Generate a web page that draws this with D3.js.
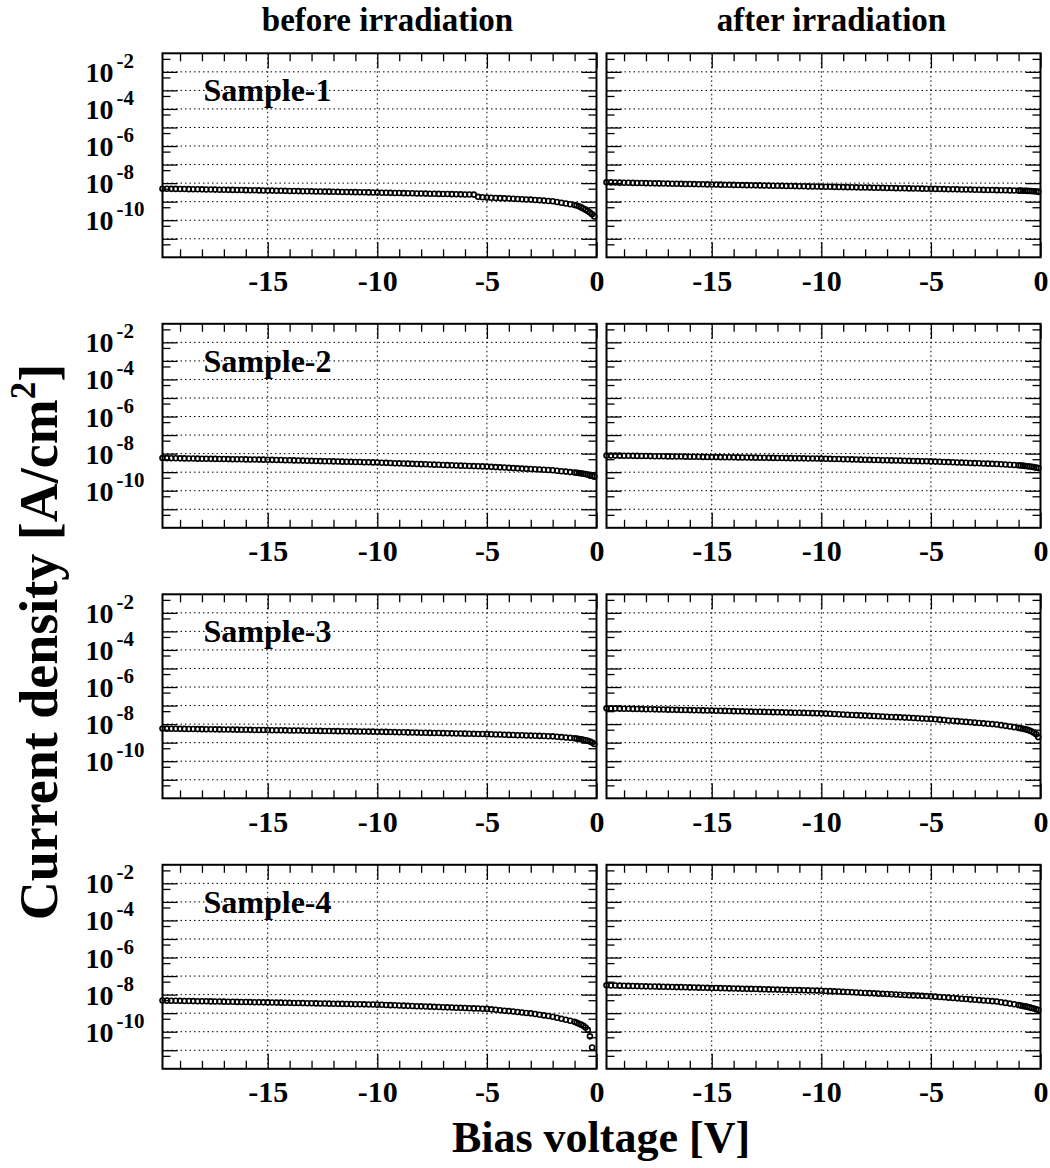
<!DOCTYPE html>
<html>
<head>
<meta charset="utf-8">
<script src="https://cdn.jsdelivr.net/npm/d3@7"></script>
<style>
  body { margin: 0; background: #fff; }
</style>
</head>
<body>
<svg id="chart" width="1050" height="1168"></svg>
<script>
// bias voltage [V] of every measured point (shared by all eight curves)
var voltages = [
  -19.8,-19.6,-19.4,-19.2,-19.0,-18.8,-18.6,-18.4,-18.2,-18.0,
  -17.8,-17.6,-17.4,-17.2,-17.0,-16.8,-16.6,-16.4,-16.2,-16.0,
  -15.8,-15.6,-15.4,-15.2,-15.0,-14.8,-14.6,-14.4,-14.2,-14.0,
  -13.8,-13.6,-13.4,-13.2,-13.0,-12.8,-12.6,-12.4,-12.2,-12.0,
  -11.8,-11.6,-11.4,-11.2,-11.0,-10.8,-10.6,-10.4,-10.2,-10.0,
  -9.8,-9.6,-9.4,-9.2,-9.0,-8.8,-8.6,-8.4,-8.2,-8.0,
  -7.8,-7.6,-7.4,-7.2,-7.0,-6.8,-6.6,-6.4,-6.2,-6.0,
  -5.8,-5.6,-5.4,-5.2,-5.0,-4.8,-4.6,-4.4,-4.2,-4.0,
  -3.8,-3.6,-3.4,-3.2,-3.0,-2.8,-2.6,-2.4,-2.2,-2.0,
  -1.8,-1.6,-1.4,-1.2,-1.0,
  -0.9,-0.8,-0.7,-0.6,-0.5,-0.4,-0.3,-0.2,-0.1
];

// current density [A/cm^2]
var s1Before = [
  5.01e-9,4.96e-9,4.91e-9,4.87e-9,4.83e-9,4.78e-9,4.74e-9,4.69e-9,4.65e-9,4.60e-9,
  4.56e-9,4.51e-9,4.47e-9,4.42e-9,4.38e-9,4.34e-9,4.30e-9,4.26e-9,4.22e-9,4.18e-9,
  4.14e-9,4.10e-9,4.06e-9,4.02e-9,3.98e-9,3.94e-9,3.90e-9,3.86e-9,3.82e-9,3.78e-9,
  3.74e-9,3.71e-9,3.67e-9,3.64e-9,3.60e-9,3.56e-9,3.53e-9,3.49e-9,3.46e-9,3.42e-9,
  3.39e-9,3.35e-9,3.32e-9,3.28e-9,3.25e-9,3.22e-9,3.19e-9,3.15e-9,3.12e-9,3.09e-9,
  3.05e-9,3.02e-9,2.99e-9,2.95e-9,2.92e-9,2.88e-9,2.85e-9,2.82e-9,2.78e-9,2.75e-9,
  2.72e-9,2.69e-9,2.66e-9,2.63e-9,2.60e-9,2.57e-9,2.54e-9,2.51e-9,2.48e-9,2.45e-9,
  2.43e-9,2.40e-9,1.82e-9,1.74e-9,1.66e-9,1.62e-9,1.58e-9,1.55e-9,1.51e-9,1.48e-9,
  1.44e-9,1.40e-9,1.36e-9,1.32e-9,1.29e-9,1.24e-9,1.19e-9,1.14e-9,1.09e-9,1.05e-9,
  0.955e-9,0.871e-9,0.794e-9,0.724e-9,0.661e-9,
  0.617e-9,0.562e-9,0.490e-9,0.427e-9,0.372e-9,0.316e-9,0.257e-9,0.209e-9,0.158e-9
];
var s1After = [
  1.10e-8,1.09e-8,1.08e-8,1.06e-8,1.05e-8,1.04e-8,1.03e-8,1.02e-8,1.01e-8,0.995e-8,
  9.84e-9,9.73e-9,9.63e-9,9.52e-9,9.42e-9,9.32e-9,9.22e-9,9.12e-9,9.02e-9,8.93e-9,
  8.83e-9,8.74e-9,8.64e-9,8.55e-9,8.46e-9,8.37e-9,8.28e-9,8.19e-9,8.10e-9,8.01e-9,
  7.93e-9,7.84e-9,7.76e-9,7.67e-9,7.59e-9,7.51e-9,7.43e-9,7.35e-9,7.27e-9,7.19e-9,
  7.11e-9,7.04e-9,6.96e-9,6.89e-9,6.81e-9,6.74e-9,6.67e-9,6.60e-9,6.52e-9,6.45e-9,
  6.38e-9,6.32e-9,6.25e-9,6.18e-9,6.11e-9,6.05e-9,5.98e-9,5.92e-9,5.85e-9,5.79e-9,
  5.73e-9,5.67e-9,5.60e-9,5.54e-9,5.48e-9,5.42e-9,5.36e-9,5.31e-9,5.25e-9,5.19e-9,
  5.14e-9,5.08e-9,5.03e-9,4.97e-9,4.92e-9,4.87e-9,4.81e-9,4.76e-9,4.71e-9,4.66e-9,
  4.61e-9,4.56e-9,4.51e-9,4.46e-9,4.42e-9,4.37e-9,4.32e-9,4.27e-9,4.23e-9,4.18e-9,
  4.14e-9,4.09e-9,4.05e-9,4.00e-9,3.96e-9,
  3.94e-9,3.89e-9,3.85e-9,3.80e-9,3.76e-9,3.72e-9,3.63e-9,3.51e-9,3.39e-9
];
var s2Before = [
  5.75e-9,5.70e-9,5.65e-9,5.60e-9,5.56e-9,5.51e-9,5.46e-9,5.41e-9,5.37e-9,5.32e-9,
  5.28e-9,5.23e-9,5.19e-9,5.14e-9,5.10e-9,5.06e-9,5.01e-9,4.97e-9,4.93e-9,4.89e-9,
  4.85e-9,4.81e-9,4.76e-9,4.72e-9,4.68e-9,4.62e-9,4.56e-9,4.49e-9,4.43e-9,4.37e-9,
  4.31e-9,4.25e-9,4.19e-9,4.13e-9,4.07e-9,4.02e-9,3.96e-9,3.91e-9,3.85e-9,3.80e-9,
  3.75e-9,3.70e-9,3.65e-9,3.60e-9,3.55e-9,3.50e-9,3.45e-9,3.40e-9,3.36e-9,3.31e-9,
  3.24e-9,3.18e-9,3.11e-9,3.05e-9,2.99e-9,2.93e-9,2.87e-9,2.81e-9,2.76e-9,2.70e-9,
  2.65e-9,2.59e-9,2.54e-9,2.49e-9,2.44e-9,2.39e-9,2.34e-9,2.30e-9,2.25e-9,2.21e-9,
  2.16e-9,2.12e-9,2.08e-9,2.04e-9,2.00e-9,1.94e-9,1.88e-9,1.82e-9,1.77e-9,1.71e-9,
  1.66e-9,1.61e-9,1.56e-9,1.51e-9,1.47e-9,1.43e-9,1.38e-9,1.34e-9,1.30e-9,1.26e-9,
  1.19e-9,1.13e-9,1.07e-9,1.01e-9,0.955e-9,
  0.923e-9,0.891e-9,0.861e-9,0.822e-9,0.785e-9,0.741e-9,0.692e-9,0.631e-9,0.562e-9
];
var s2After = [
  7.94e-9,7.88e-9,7.82e-9,7.75e-9,7.69e-9,7.63e-9,7.57e-9,7.51e-9,7.45e-9,7.39e-9,
  7.33e-9,7.27e-9,7.22e-9,7.16e-9,7.10e-9,7.05e-9,6.99e-9,6.94e-9,6.88e-9,6.83e-9,
  6.78e-9,6.72e-9,6.67e-9,6.61e-9,6.56e-9,6.51e-9,6.46e-9,6.40e-9,6.35e-9,6.30e-9,
  6.25e-9,6.20e-9,6.15e-9,6.10e-9,6.05e-9,6.00e-9,5.96e-9,5.91e-9,5.87e-9,5.82e-9,
  5.77e-9,5.73e-9,5.68e-9,5.64e-9,5.59e-9,5.55e-9,5.50e-9,5.46e-9,5.41e-9,5.37e-9,
  5.30e-9,5.22e-9,5.15e-9,5.08e-9,5.01e-9,4.94e-9,4.87e-9,4.81e-9,4.74e-9,4.68e-9,
  4.62e-9,4.55e-9,4.49e-9,4.43e-9,4.37e-9,4.31e-9,4.25e-9,4.19e-9,4.13e-9,4.07e-9,
  4.02e-9,3.96e-9,3.91e-9,3.85e-9,3.80e-9,3.72e-9,3.64e-9,3.56e-9,3.49e-9,3.41e-9,
  3.34e-9,3.27e-9,3.20e-9,3.13e-9,3.07e-9,3.00e-9,2.94e-9,2.87e-9,2.81e-9,2.75e-9,
  2.67e-9,2.58e-9,2.50e-9,2.42e-9,2.34e-9,
  2.29e-9,2.24e-9,2.16e-9,2.09e-9,2.02e-9,1.95e-9,1.86e-9,1.76e-9,1.66e-9
];
var s3Before = [
  5.75e-9,5.70e-9,5.66e-9,5.61e-9,5.57e-9,5.52e-9,5.48e-9,5.44e-9,5.40e-9,5.36e-9,
  5.31e-9,5.27e-9,5.23e-9,5.18e-9,5.14e-9,5.10e-9,5.06e-9,5.02e-9,4.98e-9,4.94e-9,
  4.90e-9,4.86e-9,4.82e-9,4.79e-9,4.75e-9,4.71e-9,4.67e-9,4.64e-9,4.60e-9,4.56e-9,
  4.53e-9,4.49e-9,4.46e-9,4.42e-9,4.39e-9,4.35e-9,4.32e-9,4.28e-9,4.25e-9,4.21e-9,
  4.18e-9,4.15e-9,4.11e-9,4.08e-9,4.05e-9,4.02e-9,3.98e-9,3.95e-9,3.92e-9,3.89e-9,
  3.84e-9,3.80e-9,3.75e-9,3.71e-9,3.66e-9,3.62e-9,3.58e-9,3.53e-9,3.49e-9,3.45e-9,
  3.41e-9,3.37e-9,3.33e-9,3.29e-9,3.25e-9,3.21e-9,3.17e-9,3.13e-9,3.10e-9,3.06e-9,
  3.02e-9,2.99e-9,2.95e-9,2.92e-9,2.88e-9,2.83e-9,2.78e-9,2.73e-9,2.68e-9,2.63e-9,
  2.58e-9,2.53e-9,2.49e-9,2.44e-9,2.40e-9,2.35e-9,2.31e-9,2.27e-9,2.23e-9,2.19e-9,
  2.09e-9,2.00e-9,1.91e-9,1.82e-9,1.74e-9,
  1.66e-9,1.58e-9,1.51e-9,1.43e-9,1.35e-9,1.26e-9,1.15e-9,1.02e-9,0.851e-9
];
var s3After = [
  7.08e-8,7.00e-8,6.92e-8,6.84e-8,6.76e-8,6.68e-8,6.61e-8,6.53e-8,6.46e-8,6.38e-8,
  6.31e-8,6.24e-8,6.17e-8,6.10e-8,6.03e-8,5.96e-8,5.89e-8,5.82e-8,5.76e-8,5.69e-8,
  5.62e-8,5.56e-8,5.50e-8,5.43e-8,5.37e-8,5.30e-8,5.22e-8,5.15e-8,5.08e-8,5.01e-8,
  4.94e-8,4.87e-8,4.81e-8,4.74e-8,4.68e-8,4.62e-8,4.55e-8,4.49e-8,4.43e-8,4.37e-8,
  4.31e-8,4.25e-8,4.19e-8,4.13e-8,4.07e-8,4.02e-8,3.96e-8,3.91e-8,3.85e-8,3.80e-8,
  3.70e-8,3.60e-8,3.50e-8,3.40e-8,3.31e-8,3.22e-8,3.13e-8,3.05e-8,2.96e-8,2.88e-8,
  2.80e-8,2.73e-8,2.65e-8,2.58e-8,2.51e-8,2.44e-8,2.38e-8,2.31e-8,2.25e-8,2.19e-8,
  2.13e-8,2.07e-8,2.02e-8,1.96e-8,1.91e-8,1.82e-8,1.74e-8,1.66e-8,1.58e-8,1.51e-8,
  1.45e-8,1.38e-8,1.32e-8,1.26e-8,1.20e-8,1.15e-8,1.10e-8,1.05e-8,1.00e-8,0.955e-8,
  0.879e-8,0.809e-8,0.745e-8,0.686e-8,0.631e-8,
  0.596e-8,0.562e-8,0.525e-8,0.490e-8,0.447e-8,0.398e-8,0.347e-8,0.282e-8,0.200e-8
];
var s4Before = [
  4.79e-9,4.74e-9,4.70e-9,4.65e-9,4.61e-9,4.56e-9,4.52e-9,4.48e-9,4.43e-9,4.39e-9,
  4.35e-9,4.31e-9,4.27e-9,4.22e-9,4.18e-9,4.14e-9,4.10e-9,4.06e-9,4.03e-9,3.99e-9,
  3.95e-9,3.91e-9,3.88e-9,3.84e-9,3.80e-9,3.76e-9,3.72e-9,3.68e-9,3.64e-9,3.60e-9,
  3.56e-9,3.52e-9,3.48e-9,3.44e-9,3.40e-9,3.36e-9,3.33e-9,3.29e-9,3.25e-9,3.22e-9,
  3.18e-9,3.15e-9,3.11e-9,3.08e-9,3.05e-9,3.01e-9,2.98e-9,2.95e-9,2.91e-9,2.88e-9,
  2.82e-9,2.76e-9,2.70e-9,2.65e-9,2.59e-9,2.54e-9,2.48e-9,2.43e-9,2.38e-9,2.33e-9,
  2.28e-9,2.24e-9,2.19e-9,2.14e-9,2.10e-9,2.06e-9,2.01e-9,1.97e-9,1.93e-9,1.89e-9,
  1.85e-9,1.81e-9,1.77e-9,1.74e-9,1.70e-9,1.61e-9,1.52e-9,1.44e-9,1.36e-9,1.29e-9,
  1.22e-9,1.15e-9,1.09e-9,1.03e-9,0.977e-9,0.899e-9,0.828e-9,0.762e-9,0.701e-9,0.646e-9,
  0.570e-9,0.504e-9,0.445e-9,0.393e-9,0.347e-9,
  0.302e-9,0.269e-9,0.240e-9,0.209e-9,0.170e-9,0.126e-9,0.0562e-9,0.0141e-9,null
];
var s4After = [
  3.16e-8,3.12e-8,3.08e-8,3.04e-8,3.00e-8,2.96e-8,2.92e-8,2.88e-8,2.84e-8,2.80e-8,
  2.76e-8,2.73e-8,2.69e-8,2.66e-8,2.62e-8,2.59e-8,2.55e-8,2.52e-8,2.48e-8,2.45e-8,
  2.42e-8,2.38e-8,2.35e-8,2.32e-8,2.29e-8,2.26e-8,2.23e-8,2.20e-8,2.17e-8,2.14e-8,
  2.11e-8,2.08e-8,2.05e-8,2.03e-8,2.00e-8,1.97e-8,1.94e-8,1.91e-8,1.89e-8,1.86e-8,
  1.84e-8,1.81e-8,1.79e-8,1.76e-8,1.74e-8,1.72e-8,1.69e-8,1.67e-8,1.65e-8,1.62e-8,
  1.58e-8,1.54e-8,1.50e-8,1.46e-8,1.41e-8,1.38e-8,1.34e-8,1.30e-8,1.27e-8,1.23e-8,
  1.20e-8,1.17e-8,1.13e-8,1.10e-8,1.07e-8,1.04e-8,1.01e-8,0.984e-8,0.958e-8,0.933e-8,
  0.907e-8,0.883e-8,0.859e-8,0.836e-8,0.813e-8,0.779e-8,0.746e-8,0.715e-8,0.685e-8,0.656e-8,
  0.628e-8,0.602e-8,0.576e-8,0.552e-8,0.529e-8,0.507e-8,0.485e-8,0.465e-8,0.445e-8,0.427e-8,
  0.391e-8,0.358e-8,0.328e-8,0.301e-8,0.275e-8,
  0.260e-8,0.245e-8,0.232e-8,0.219e-8,0.204e-8,0.191e-8,0.178e-8,0.164e-8,0.148e-8
];

var sampleNames = ['Sample-1', 'Sample-2', 'Sample-3', 'Sample-4'];
var columnTitles = ['before irradiation', 'after irradiation'];
var xTickValues = [-15, -10, -5, 0];
var xGridValues = [-15, -10, -5];
var xMinorTicks = [-19, -18, -17, -16, -14, -13, -12, -11, -9, -8, -7, -6, -4, -3, -2, -1];
var yDecades = [1e-2, 1e-3, 1e-4, 1e-5, 1e-6, 1e-7, 1e-8, 1e-9, 1e-10, 1e-11];
var yMinorTicks = [5e-2, 5e-3, 5e-4, 5e-5, 5e-6, 5e-7, 5e-8, 5e-9, 5e-10, 5e-11, 5e-12];
var yLabelValues = [1e-2, 1e-4, 1e-6, 1e-8, 1e-10];
var yLabelExponents = ['-2', '-4', '-6', '-8', '-10'];
var xDomain = [-19.8, 0];
var yDomain = [1e-12, 1e-1];

var panelSeries = [
    [s1Before, s1After],
    [s2Before, s2After],
    [s3Before, s3After],
    [s4Before, s4After]
];

var fontFamily = '"Liberation Serif", "Times New Roman", Times, serif';
var plotW = 434, plotH = 204;
var colX = [162.5, 606.5];
var rowY = [53.3, 323.8, 594.3, 864.8];

var svg = d3.select('#chart');
svg.append('rect').attr('width', 1050).attr('height', 1168).attr('fill', '#fff');

var x = d3.scaleLinear().domain(xDomain).range([0, plotW]);
var y = d3.scaleLog().domain(yDomain).range([plotH, 0]);

function styleAxis(sel) {
    sel.select('.domain').remove();
    sel.attr('font-family', fontFamily).attr('font-size', 30).attr('font-weight', 'bold');
    sel.selectAll('.tick line').attr('stroke', '#000').attr('stroke-width', 1.3);
    sel.selectAll('.tick text').attr('fill', '#000');
}

function drawPanel(row, col, values) {
    var g = svg.append('g')
        .attr('transform', 'translate(' + colX[col] + ',' + rowY[row] + ')');

    // dotted grid
    g.append('g').selectAll('line').data(yDecades).join('line')
        .attr('x1', 0).attr('x2', plotW)
        .attr('y1', function(d) { return y(d); }).attr('y2', function(d) { return y(d); })
        .attr('stroke', '#000').attr('stroke-width', 1).attr('stroke-dasharray', '1.5,3');
    g.append('g').selectAll('line').data(xGridValues).join('line')
        .attr('y1', 0).attr('y2', plotH)
        .attr('x1', function(d) { return x(d); }).attr('x2', function(d) { return x(d); })
        .attr('stroke', '#000').attr('stroke-width', 1).attr('stroke-dasharray', '1.5,3');

    // open circle markers
    var pts = voltages.map(function(v, i) { return {v: v, j: values[i]}; })
        .filter(function(d) { return d.j != null; });
    g.append('g').selectAll('circle').data(pts).join('circle')
        .attr('cx', function(d) { return x(d.v); })
        .attr('cy', function(d) { return y(d.j); })
        .attr('r', 2.5)
        .attr('fill', 'none').attr('stroke', '#000').attr('stroke-width', 1.6);

    // ticks on all four sides, pointing inward
    g.append('g').attr('transform', 'translate(0,' + plotH + ')')
        .call(d3.axisBottom(x).tickValues(xTickValues).tickSize(-15).tickSizeOuter(0)
            .tickPadding(12).tickFormat(function(d) { return String(d); }))
        .call(styleAxis);
    g.append('g').attr('transform', 'translate(0,' + plotH + ')')
        .call(d3.axisBottom(x).tickValues(xMinorTicks).tickSize(-8).tickFormat(''))
        .call(styleAxis);
    g.append('g')
        .call(d3.axisTop(x).tickValues(xTickValues).tickSize(-15).tickFormat(''))
        .call(styleAxis);
    g.append('g')
        .call(d3.axisTop(x).tickValues(xMinorTicks).tickSize(-8).tickFormat(''))
        .call(styleAxis);
    g.append('g')
        .call(d3.axisLeft(y).tickValues(yDecades).tickSize(-15).tickFormat(''))
        .call(styleAxis);
    g.append('g')
        .call(d3.axisLeft(y).tickValues(yMinorTicks).tickSize(-8).tickFormat(''))
        .call(styleAxis);
    g.append('g').attr('transform', 'translate(' + plotW + ',0)')
        .call(d3.axisRight(y).tickValues(yDecades).tickSize(-15).tickFormat(''))
        .call(styleAxis);
    g.append('g').attr('transform', 'translate(' + plotW + ',0)')
        .call(d3.axisRight(y).tickValues(yMinorTicks).tickSize(-8).tickFormat(''))
        .call(styleAxis);

    g.append('rect')
        .attr('width', plotW).attr('height', plotH)
        .attr('fill', 'none').attr('stroke', '#000').attr('stroke-width', 2);

    if (col === 0) {
        var lab = g.append('g').attr('font-family', fontFamily).attr('font-weight', 'bold');
        yLabelValues.forEach(function(d, i) {
            var t = lab.append('text').attr('x', -77).attr('y', y(d) + 10).attr('font-size', 28);
            t.append('tspan').text('10');
            t.append('tspan').attr('font-size', 21).attr('dx', 3).attr('dy', -14).text(yLabelExponents[i]);
        });
        g.append('text')
            .attr('x', 41).attr('y', 48)
            .attr('font-family', fontFamily).attr('font-weight', 'bold').attr('font-size', 32)
            .text(sampleNames[row]);
    }
}

panelSeries.forEach(function(pair, row) {
    pair.forEach(function(values, col) { drawPanel(row, col, values); });
});

columnTitles.forEach(function(t, col) {
    svg.append('text')
        .attr('x', colX[col] + plotW / 2 + 8).attr('y', 31)
        .attr('text-anchor', 'middle')
        .attr('font-family', fontFamily).attr('font-weight', 'bold').attr('font-size', 33)
        .text(t);
});

var yTitle = svg.append('text')
    .attr('transform', 'translate(57,642) rotate(-90)')
    .attr('text-anchor', 'middle')
    .attr('font-family', fontFamily).attr('font-weight', 'bold').attr('font-size', 54);
yTitle.append('tspan').text('Current density [A/cm');
yTitle.append('tspan').attr('font-size', 35).attr('dy', -22).text('2');
yTitle.append('tspan').attr('dy', 22).text(']');

svg.append('text')
    .attr('x', 601).attr('y', 1152)
    .attr('text-anchor', 'middle')
    .attr('font-family', fontFamily).attr('font-weight', 'bold').attr('font-size', 44)
    .text('Bias voltage [V]');
</script>
</body>
</html>
